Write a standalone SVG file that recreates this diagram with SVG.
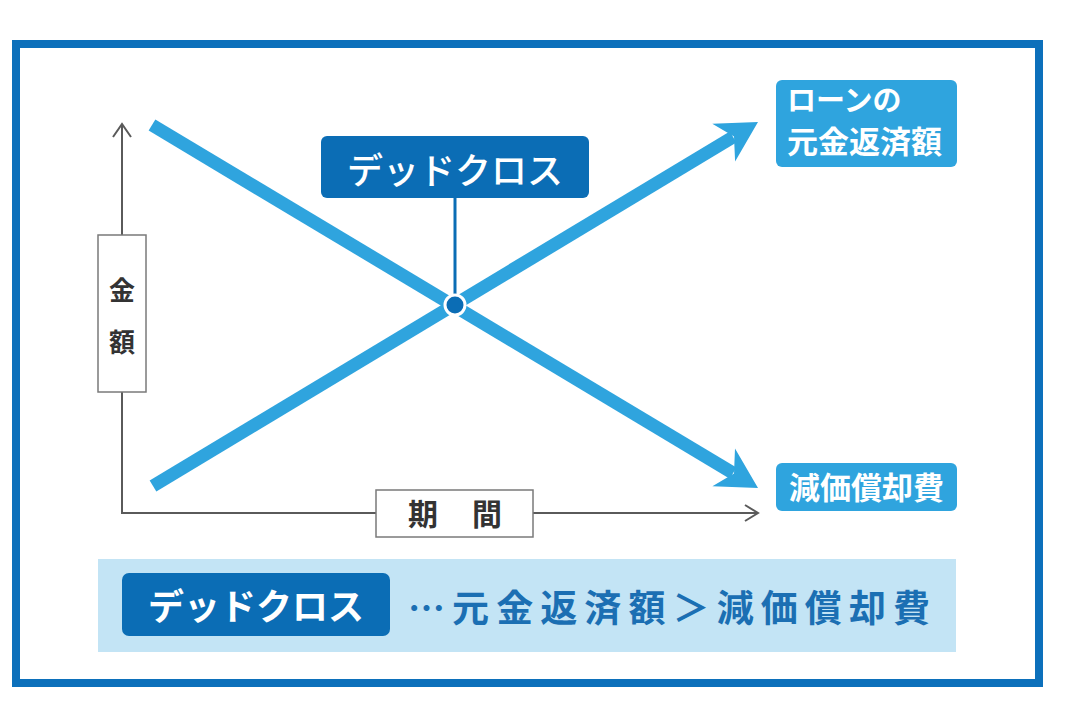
<svg xmlns="http://www.w3.org/2000/svg" width="1080" height="705" viewBox="0 0 1080 705">
<style>
.jp{font-family:"Noto Sans CJK JP","Noto Sans CJK SC",sans-serif}
.w{fill:#fff}
.ax{fill:none;stroke:#5a5a5a;stroke-width:2}
.axbox{fill:#fff;stroke:#7a7a7a;stroke-width:1.5}
.axt{fill:#333;font-weight:bold}
.ln{stroke:#2fa4de;stroke-width:13;fill:none}
.hd{fill:#2fa4de}
.dk{fill:#0b6db5}
.lb{fill:#2fa4de}
</style>
<rect width="1080" height="705" fill="#fff"/>
<rect x="16" y="44" width="1023" height="639" fill="none" stroke="#0c70bb" stroke-width="8"/>

<g id="connectors">
  <polyline class="ax" points="113,137 122,124 131,137"/>
  <line class="ax" x1="122" y1="125" x2="122" y2="513"/>
  <line class="ax" x1="121" y1="513" x2="757" y2="513"/>
  <polyline class="ax" points="745,505 758,513 745,521"/>
  <line class="ln" x1="152" y1="125" x2="733.1" y2="473.1"/>
  <polygon class="hd" points="758,488 735,448.5 734,473.6 712.4,486.3"/>
  <line class="ln" x1="153" y1="486" x2="733.1" y2="137"/>
  <polygon class="hd" points="758,122 712.3,123.7 734,136.4 735.1,161.5"/>
  <line x1="455" y1="197" x2="455" y2="300" stroke="#0b6db5" stroke-width="3"/>
  <circle cx="455" cy="305" r="10" fill="#0b6db5" stroke="#fff" stroke-width="3"/>
</g>

<g id="y-label">
  <rect class="axbox" x="98" y="235" width="48" height="157"/>
  <text class="jp axt" x="122" y="300" font-size="26" text-anchor="middle">金</text>
  <text class="jp axt" x="122" y="352" font-size="26" text-anchor="middle">額</text>
</g>

<g id="x-label">
  <rect class="axbox" x="376" y="490" width="157" height="47"/>
  <text class="jp axt" x="423" y="525" font-size="30" text-anchor="middle">期</text>
  <text class="jp axt" x="487" y="525" font-size="30" text-anchor="middle">間</text>
</g>

<g id="dead-cross">
  <rect class="dk" x="321" y="136" width="268" height="62" rx="6"/>
  <text class="jp w" x="455" y="184" font-size="36" font-weight="500" text-anchor="middle">デッドクロス</text>
</g>

<g id="loan">
  <rect class="lb" x="776" y="80" width="181" height="87" rx="6"/>
  <text class="jp w" x="787" y="111" font-size="29" font-weight="bold">ローンの</text>
  <text class="jp w" x="787" y="153" font-size="31" font-weight="bold">元金返済額</text>
</g>

<g id="depreciation">
  <rect class="lb" x="776" y="463" width="181" height="48" rx="6"/>
  <text class="jp w" x="866.5" y="499" font-size="31" font-weight="bold" text-anchor="middle">減価償却費</text>
</g>

<g id="summary">
  <rect x="98" y="559" width="858" height="93" fill="#c3e4f5"/>
  <rect class="dk" x="122" y="573" width="268" height="63" rx="7"/>
  <text class="jp w" x="256" y="620" font-size="36" font-weight="bold" text-anchor="middle">デッドクロス</text>
  <text class="jp" x="408" y="622" font-size="37" font-weight="bold" fill="#1b6fb3" textLength="522" lengthAdjust="spacing">…元金返済額＞減価償却費</text>
</g>
</svg>
